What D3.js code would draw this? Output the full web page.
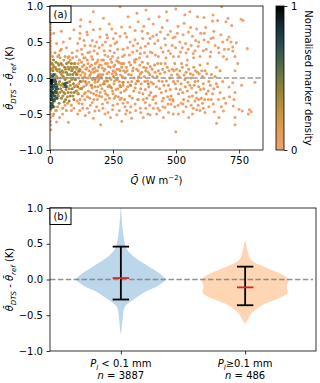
<!DOCTYPE html>
<html>
<head>
<meta charset="utf-8">
<script src="https://cdn.jsdelivr.net/npm/d3@7"></script>
<style>
  body { margin: 0; background: #fff; }
  svg { display: block; font-family: "DejaVu Sans", sans-serif; }
</style>
</head>
<body>
<svg id="chart" width="320" height="383"></svg>
<script>
// ---- panel (a) data: [Q, dT], grouped by marker density ----
const streakPts = [[1,1.0],[2,0.97],[1,0.93],[2,0.9],[1,0.86],[2,0.82],[1,0.78],[2,0.75],[1,0.71],[2,0.67],
  [1,0.63],[2,0.6],[1,0.56],[2,0.52],[1,0.48],[2,0.44],[1,0.4],[2,0.36],[1,0.33],[2,0.3],[1,0.26],[2,0.22],
  [1,0.18],[2,0.14],[1,0.1],[2,0.06],[1,-0.4],[2,-0.45],[1,-0.5],[2,-0.55],[1,-0.6],[2,-0.65],[3,-0.72]];

const sparsePts = [
  [26,0.48],[53,0.50],[79,0.55],[95,0.67],[40,0.38],[65,0.42],[88,0.35],[30,0.30],[72,0.28],[15,0.62],
  [45,0.65],[22,-0.45],[26,-0.61],[73,-0.615],[50,-0.5],[85,-0.45],[60,-0.38],[95,-0.42],[38,-0.55],[12,-0.52],
  [122,0.81],[159,0.78],[172,0.92],[119,0.62],[146,0.64],[172,0.67],[198,0.57],[110,0.48],[135,0.52],[160,0.45],
  [185,0.5],[125,0.4],[150,0.35],[175,0.38],[195,0.42],[105,0.3],[140,0.28],[165,0.3],[190,0.25],[115,-0.35],
  [130,-0.42],[155,-0.48],[172,-0.56],[185,-0.4],[201,-0.65],[140,-0.52],[110,-0.5],[160,-0.38],[195,-0.45],[120,0.72],
  [212,0.83],[278,0.99],[284,0.71],[251,0.55],[225,0.6],[240,0.45],[265,0.5],[290,0.4],[215,0.38],[230,0.3],
  [255,0.35],[270,0.28],[295,0.32],[245,0.68],[260,0.62],[220,0.5],[205,0.25],[280,0.2],[265,-0.51],[210,-0.42],
  [230,-0.48],[250,-0.38],[275,-0.45],[290,-0.35],[240,-0.55],[220,-0.3],[285,-0.6],[255,-0.28],[300,-0.5],[235,0.75],
  [317,0.71],[304,0.57],[337,0.53],[381,0.945],[397,0.55],[324,-0.56],[397,-0.51],[310,0.85],[350,0.78],[365,0.65],
  [330,0.45],[345,0.38],[360,0.42],[375,0.35],[390,0.48],[315,0.32],[355,0.28],[385,0.3],[320,-0.4],[340,-0.45],
  [360,-0.48],[380,-0.42],[395,-0.38],[350,-0.3],[370,-0.55],[335,0.25],[372,0.72],[392,0.82],[345,0.9],[305,-0.45],
  [423,0.60],[433,0.85],[496,0.57],[499,0.96],[423,-0.50],[456,-0.41],[480,-0.365],[489,-0.5],[409,0.75],[415,0.48],
  [440,0.42],[455,0.55],[470,0.38],[485,0.45],[445,0.7],[465,0.8],[478,0.65],[405,0.35],[430,0.3],[460,0.28],
  [490,0.3],[410,-0.42],[435,-0.45],[450,-0.55],[470,-0.48],[495,-0.4],[420,-0.35],[445,-0.32],[475,-0.3],[462,0.92],
  [509,-0.5],[529,-0.47],[532,0.76],[549,0.64],[555,0.92],[565,0.58],[582,0.68],[582,-0.44],[499,-0.745],[515,0.5],
  [525,0.42],[540,0.35],[560,0.45],[575,0.38],[590,0.5],[510,0.3],[545,0.25],[570,0.28],[595,0.3],[520,-0.35],
  [540,-0.4],[560,-0.38],[575,-0.32],[595,-0.45],[550,-0.55],[535,0.88],[585,0.85],[505,0.62],[590,-0.3],[565,-0.5],
  [611,0.84],[612,0.62],[639,0.55],[611,0.53],[647,0.875],[665,0.80],[645,0.79],[698,0.78],[692,0.40],[681,0.99],
  [615,-0.48],[652,-0.47],[661,-0.63],[697,-0.35],[701,0.26],[620,0.4],[635,0.3],[655,0.45],[670,0.35],[685,0.5],
  [625,0.2],[660,0.15],[675,-0.2],[640,-0.3],[680,-0.4],[605,-0.35],[630,-0.4],[670,-0.55],[690,-0.28],[650,0.65],
  [706,0.83],[758,0.815],[766,0.80],[721,0.73],[710,0.57],[703,0.53],[718,0.50],[739,0.49],[725,0.43],[725,0.375],
  [708,0.40],[783,0.41],[734,0.30],[734,0.10],[813,-0.06],[725,-0.065],[710,-0.125],[734,-0.2],[712,-0.26],[730,-0.3],
  [727,-0.39],[750,-0.435],[763,-0.46],[791,-0.44],[798,-0.47],[787,-0.50],[734,-0.55],[734,-0.65],[745,0.2],[760,-0.1]];

const fringePts = [
  [108,0.38],[118,0.55],[128,0.33],[138,0.45],[148,0.6],[158,0.36],[168,0.52],[178,0.44],[188,0.34],[198,0.68],
  [208,0.46],[218,0.32],[228,0.56],[238,0.38],[248,0.3],[258,0.48],[268,0.4],[278,0.58],[288,0.3],[298,0.62],
  [308,0.42],[318,0.5],[328,0.36],[338,0.66],[348,0.48],[358,0.34],[368,0.55],[378,0.44],[388,0.62],[398,0.36],
  [408,0.58],[418,0.32],[428,0.52],[438,0.64],[448,0.36],[458,0.46],[468,0.6],[478,0.34],[488,0.56],[498,0.42],
  [508,0.72],[518,0.36],[528,0.6],[538,0.48],[548,0.4],[558,0.7],[568,0.34],[578,0.52],[588,0.44],[598,0.62],
  [608,0.38],[618,0.7],[628,0.5],[638,0.36],[648,0.56],[668,0.42],[678,0.6],[688,0.3],
  [108,-0.32],[118,-0.45],[128,-0.36],[138,-0.3],[148,-0.42],[168,-0.34],[178,-0.46],[188,-0.3],[208,-0.36],[218,-0.5],
  [228,-0.34],[248,-0.44],[268,-0.36],[278,-0.3],[298,-0.4],[308,-0.34],[318,-0.48],[338,-0.36],[358,-0.42],[378,-0.34],
  [388,-0.5],[408,-0.3],[428,-0.42],[448,-0.4],[468,-0.36],[488,-0.32],[508,-0.38],[528,-0.36],[548,-0.32],[568,-0.42],
  [588,-0.38],[608,-0.42],[628,-0.3],[648,-0.36],[668,-0.3],[688,-0.46]];

const bandPts = [
  [10,0.3],[20,0.35],[30,-0.4],[40,0.28],[50,-0.42],[60,0.3],[70,-0.35],[80,0.25],[90,0.28],[25,-0.45],
  [45,0.4],[65,-0.45],[85,-0.38],[35,0.32],[55,0.25],[75,0.3],[95,0.2],[15,-0.5],
  [102,0.15],[105,-0.1],[108,0.05],[110,-0.22],[112,0.2],[115,0.0],[118,-0.15],[120,0.1],[123,-0.05],[125,0.22],
  [128,-0.25],[130,0.08],[133,-0.12],[135,0.18],[138,0.02],[140,-0.2],[142,0.12],[145,-0.08],[148,0.25],[150,0.0],
  [152,-0.18],[155,0.1],[158,-0.28],[160,0.05],[163,-0.1],[165,0.18],[168,-0.02],[170,0.12],[173,-0.22],[175,0.08],
  [178,-0.12],[180,0.2],[183,0.0],[185,-0.18],[188,0.1],[190,-0.05],[193,0.15],[195,-0.25],[198,0.05],[200,-0.1],
  [203,0.18],[206,-0.15],[209,0.05],[212,0.25],[215,-0.05],[218,0.12],[221,-0.22],[224,0.0],[227,0.2],[230,-0.12],
  [233,0.08],[236,-0.28],[239,0.15],[242,-0.02],[245,0.22],[248,-0.18],[251,0.1],[254,-0.08],[257,0.18],[260,-0.25],
  [263,0.05],[266,0.12],[269,-0.15],[272,0.22],[275,-0.05],[278,0.1],[281,-0.2],[284,0.15],[287,0.02],[290,-0.1],
  [293,0.2],[296,-0.3],[299,0.08],
  [303,0.15],[308,-0.12],[312,0.05],[316,-0.25],[320,0.18],[324,-0.05],[328,0.1],[332,-0.18],[336,0.22],[340,-0.08],
  [344,0.12],[348,-0.3],[352,0.02],[356,0.18],[360,-0.15],[364,0.08],[368,-0.22],[372,0.15],[376,-0.05],[380,0.1],
  [384,-0.28],[388,0.2],[392,-0.12],[396,0.05],[400,-0.2],[405,0.12],[410,-0.08],[415,0.18],[420,-0.25],[425,0.02],
  [430,0.1],[435,-0.15],[440,0.2],[445,-0.05],[450,-0.28],
  [455,0.08],[460,-0.18],[465,0.15],[470,-0.1],[475,0.0],[480,-0.25],[485,0.12],[490,-0.05],[495,0.2],[500,-0.15],
  [505,0.05],[510,-0.22],[515,0.1],[520,-0.08],[525,0.15],[530,-0.3],[535,-0.02],[540,0.08],[545,-0.18],[550,0.12],
  [555,-0.1],[560,0.0],[565,-0.25],[570,0.15],[575,-0.05],[580,-0.2],[585,0.08],[590,-0.12],[595,0.18],[600,-0.28],
  [605,0.02],[610,-0.15],[615,0.1],[620,-0.22],[630,-0.05],[640,0.05],[650,-0.15],[660,-0.08],[675,0.1]];

const bandPts2 = [
  [101,-0.02],[104,0.12],[107,-0.18],[111,0.08],[114,-0.08],[117,0.25],[119,-0.3],[122,0.04],[126,-0.14],[129,0.16],
  [131,-0.04],[134,0.28],[137,-0.22],[139,0.06],[143,-0.1],[146,0.14],[149,-0.26],[151,0.2],[154,-0.06],[157,0.03],
  [159,0.16],[162,-0.2],[164,0.08],[167,-0.14],[169,0.26],[172,0.0],[174,-0.3],[177,0.14],[179,-0.06],[182,0.1],
  [184,-0.24],[187,0.22],[189,-0.12],[192,0.04],[194,-0.02],[197,0.18],[199,-0.2],
  [202,0.02],[205,-0.26],[208,0.14],[211,-0.08],[214,0.1],[217,-0.18],[220,0.2],[223,-0.04],[226,0.06],[229,-0.24],
  [232,0.16],[235,-0.1],[238,0.0],[241,0.26],[244,-0.14],[247,0.06],[250,-0.22],[253,0.16],[256,-0.04],[259,0.08],
  [262,-0.16],[265,0.24],[268,0.0],[271,-0.26],[274,0.12],[277,-0.1],[280,0.04],[283,-0.28],[286,0.2],[289,-0.06],
  [292,0.1],[295,-0.18],[298,0.0],
  [302,-0.16],[306,0.1],[310,-0.06],[314,0.22],[318,-0.1],[322,0.04],[326,-0.28],[330,0.14],[334,0.0],[338,-0.14],
  [342,0.26],[346,-0.04],[350,0.1],[354,-0.2],[358,0.06],[362,-0.08],[366,0.22],[370,-0.3],[374,0.02],[378,-0.16],
  [382,0.14],[386,-0.04],[390,0.08],[394,-0.24],[398,0.16],[402,-0.06],[407,0.02],[412,-0.26],[417,0.08],[422,-0.12],
  [427,0.2],[432,-0.04],[437,0.06],[442,-0.2],[447,0.12],[452,-0.1],[457,0.2],[462,-0.04],[467,-0.26],[472,0.1],
  [477,-0.16],[482,0.04],[487,-0.3],[492,0.1],[497,-0.08],[502,0.12],[507,-0.04],[512,0.02],[517,-0.16],[522,0.2],
  [527,-0.2],[532,0.04],[537,-0.12],[542,0.18],[547,-0.06],[552,-0.26],[557,0.06],[562,-0.14],[567,0.04],[572,-0.1],
  [577,0.1],[582,-0.28],[587,-0.04],[592,0.06],[597,-0.16],[602,0.1],[608,-0.08],[614,-0.3],[622,0.06],[628,-0.18],
  [636,-0.1],[645,-0.22],[655,0.02],[665,-0.12],[685,-0.05]];

const midOlivePts = [[140,-0.05],[165,-0.1],[190,0.02],[215,-0.08],[240,-0.12],[265,-0.02],[290,-0.06],[320,-0.1],
  [350,-0.04],[390,-0.08],[178,-0.02],[205,0.0],[228,-0.04],[252,0.02],[280,-0.12]];

const olivePts = [
  [8,0.2],[12,0.1],[15,0.15],[18,-0.32],[20,0.05],[22,-0.2],[25,0.12],[28,-0.1],[30,0.0],[33,-0.25],
  [35,0.18],[38,-0.05],[40,0.08],[42,-0.15],[45,-0.28],[48,0.1],[50,-0.08],[52,0.02],[55,-0.2],[58,0.15],
  [60,-0.02],[62,-0.3],[65,0.08],[68,-0.12],[70,0.05],[72,-0.2],[75,0.12],[78,-0.05],[80,-0.25],[83,0.0],
  [86,0.1],[88,-0.15],[90,0.05],[93,-0.08],[96,-0.2],[98,0.08],[100,-0.02],[10,-0.35],[16,-0.4],[14,0.25],
  [24,0.22],[36,-0.35],[44,0.2],[56,-0.33],[66,0.2],[76,-0.32],[85,0.2],[95,-0.3],[105,0.05],[110,-0.12],
  [115,0.1],[120,-0.05]];

const olivePts2 = [
  [5,0.05],[7,0.12],[9,-0.02],[11,-0.25],[13,0.18],[17,0.0],[19,-0.12],[21,0.15],[23,-0.28],[26,0.02],
  [27,-0.18],[29,0.1],[31,-0.22],[32,0.2],[34,-0.08],[37,0.12],[39,-0.2],[41,0.0],[43,-0.1],[46,0.05],
  [47,-0.18],[49,0.18],[51,-0.25],[53,0.08],[54,-0.12],[57,0.0],[59,-0.22],[61,0.12],[64,-0.16],[67,0.0],
  [69,-0.26],[71,0.15],[73,-0.06],[74,0.22],[77,-0.15],[79,0.05],[81,-0.1],[82,0.15],[84,-0.2],[87,-0.02],
  [89,0.12],[91,-0.25],[92,0.0],[94,0.15],[97,-0.12],[99,0.2],[103,-0.18],[107,0.15],[113,-0.22],[118,0.12],
  [124,-0.15],[130,0.0]];

const tealPts = [[2,-0.3],[4,-0.22],[6,-0.15],[8,-0.28],[10,-0.1],[12,-0.2],[14,-0.05],[16,-0.25],[18,-0.12],
  [20,-0.18],[22,-0.08],[5,-0.35],[9,-0.38],[13,-0.32],[3,-0.4],[24,-0.15],[7,0.0],[11,0.02],
  [3,-0.12],[5,-0.18],[7,-0.3],[9,-0.05],[11,-0.15],[13,-0.22],[15,-0.1],[17,-0.3],[19,-0.02],[21,-0.25],
  [23,-0.05],[25,-0.2],[27,-0.12],[4,-0.42],[6,-0.38],[8,0.02],[12,-0.4],[15,0.05],[28,-0.28],[30,-0.15],
  [60,-0.1],[63,-0.12],[58,-0.08],[65,-0.07]];

const darkPts = [[3,-0.18],[5,-0.25],[7,-0.12],[4,-0.3],[9,-0.2],[6,-0.08]];
const corePts = [[3,-0.03],[5,-0.05],[7,-0.02],[4,-0.07],[2,-0.04]];

const scatterGroups = [streakPts, sparsePts, fringePts, bandPts, bandPts2, midOlivePts, olivePts, olivePts2, tealPts, darkPts, corePts];
const groupDensity = [0.02, 0.02, 0.03, 0.12, 0.08, 0.25, 0.38, 0.3, 0.68, 0.82, 1.0];

// colormap stops (density 0 -> 1)
const cmapColors = ["#f2a172", "#e59c58", "#c99342", "#9f8838", "#73793d", "#46634c", "#27474f", "#15292f", "#000000"];

// ---- panel (b) data ----
const violinCats = ["P_l < 0.1 mm", "P_l≥0.1 mm"];
const violinN = [3887, 486];
// [dT, relative half-width]
const profileDry = [[1.0,0.005],[0.85,0.02],[0.65,0.05],[0.5,0.09],[0.41,0.15],[0.3,0.33],[0.18,0.63],[0.09,0.85],
  [0.02,0.98],[0,1.0],[-0.08,0.85],[-0.17,0.55],[-0.29,0.26],[-0.38,0.09],[-0.52,0.045],[-0.71,0.015],[-0.76,0.003]];
const profileWet = [[0.55,0.005],[0.48,0.03],[0.41,0.05],[0.27,0.14],[0.18,0.42],[0.09,0.76],[0.0,0.97],[-0.05,0.95],
  [-0.10,0.93],[-0.19,0.95],[-0.26,0.76],[-0.36,0.38],[-0.47,0.15],[-0.54,0.08],[-0.62,0.005]];
const violinMean = [0.02, -0.11];
const violinUpper = [0.46, 0.18];
const violinLower = [-0.28, -0.36];
const violinFill = ["#bcd6ea", "#ffd6b3"];

const yTicks = [1.0, 0.5, 0.0, -0.5, -1.0];
const qTicks = [0, 250, 500, 750];

const svg = d3.select("#chart");
const fmt = d => d3.format(".1f")(d).replace("-", "\u2212");

// ===== panel (a) =====
const A = {l: 50, r: 263, t: 6, b: 150};
const xA = d3.scaleLinear().domain([0, 845]).range([A.l, A.r]);
const yA = d3.scaleLinear().domain([-1, 1]).range([A.b, A.t]);
const cmap = d3.scaleLinear()
  .domain(cmapColors.map((c, i) => i / (cmapColors.length - 1)))
  .range(cmapColors);

svg.append("clipPath").attr("id", "clipA")
  .append("rect").attr("x", A.l).attr("y", A.t).attr("width", A.r - A.l).attr("height", A.b - A.t);

const scat = svg.append("g").attr("clip-path", "url(#clipA)");
scatterGroups.forEach((pts, gi) => {
  scat.append("g").selectAll("circle")
    .data(pts)
    .enter().append("circle")
    .attr("cx", d => xA(d[0]))
    .attr("cy", d => yA(d[1]))
    .attr("r", 1.5)
    .attr("fill", cmap(groupDensity[gi]));
});

// zero line
svg.append("line")
  .attr("x1", A.l).attr("x2", A.r).attr("y1", yA(0)).attr("y2", yA(0))
  .attr("stroke", "#999").attr("stroke-width", 1.6).attr("stroke-dasharray", "5.5,2.4");

svg.append("g").attr("transform", `translate(${A.l},0)`)
  .call(d3.axisLeft(yA).tickValues(yTicks).tickFormat(fmt).tickSize(3.5).tickPadding(3.5))
  .call(g => g.select(".domain").remove());
svg.append("g").attr("transform", `translate(0,${A.b})`)
  .call(d3.axisBottom(xA).tickValues(qTicks).tickSize(3.5).tickPadding(3.5))
  .call(g => g.select(".domain").remove());
svg.append("rect").attr("x", A.l).attr("y", A.t).attr("width", A.r - A.l).attr("height", A.b - A.t)
  .attr("fill", "none").attr("stroke", "#000").attr("stroke-width", 0.8);

// panel letter
function panelLabel(x, y, txt) {
  svg.append("rect").attr("x", x).attr("y", y).attr("width", 21).attr("height", 16.5)
    .attr("fill", "#fff").attr("stroke", "#000").attr("stroke-width", 1);
  svg.append("text").attr("x", x + 10.5).attr("y", y + 12).attr("text-anchor", "middle")
    .attr("font-size", 10).text(txt);
}
panelLabel(A.l, A.t, "(a)");

// y label
function thetaLabel(cx, cy) {
  const t = svg.append("text").attr("transform", `translate(${cx},${cy}) rotate(-90)`)
    .attr("text-anchor", "middle").attr("font-size", 10);
  t.append("tspan").attr("font-style", "italic").text("\u03B8\u0304");
  t.append("tspan").attr("font-style", "italic").attr("font-size", 7).attr("dy", 2.5).text("DTS");
  t.append("tspan").attr("dy", -2.5).text(" - ");
  t.append("tspan").attr("font-style", "italic").text("\u03B8\u0304");
  t.append("tspan").attr("font-style", "italic").attr("font-size", 7).attr("dy", 2.5).text("ref");
  t.append("tspan").attr("dy", -2.5).text(" (K)");
}
thetaLabel(13, (A.t + A.b) / 2);

// x label
const xl = svg.append("text").attr("x", (A.l + A.r) / 2).attr("y", 184)
  .attr("text-anchor", "middle").attr("font-size", 10);
xl.append("tspan").attr("font-style", "italic").text("Q\u0304");
xl.append("tspan").text(" (W m");
xl.append("tspan").attr("font-size", 7).attr("dy", -4).text("\u22122");
xl.append("tspan").attr("dy", 4).text(")");

// colorbar
const CB = {l: 276, r: 284};
const grad = svg.append("defs").append("linearGradient").attr("id", "cbGrad")
  .attr("x1", 0).attr("y1", 1).attr("x2", 0).attr("y2", 0);
cmapColors.forEach((c, i) => grad.append("stop")
  .attr("offset", i / (cmapColors.length - 1)).attr("stop-color", c));
svg.append("rect").attr("x", CB.l).attr("y", A.t).attr("width", CB.r - CB.l).attr("height", A.b - A.t)
  .attr("fill", "url(#cbGrad)").attr("stroke", "#000").attr("stroke-width", 0.8);
const cbScale = d3.scaleLinear().domain([0, 1]).range([A.b, A.t]);
svg.append("g").attr("transform", `translate(${CB.r},0)`)
  .call(d3.axisRight(cbScale).tickValues([0, 1]).tickFormat(d3.format("d")).tickSize(3.5).tickPadding(3.5))
  .call(g => g.select(".domain").remove());
svg.append("text").attr("transform", `translate(305,${(A.t + A.b) / 2}) rotate(90)`)
  .attr("text-anchor", "middle").attr("font-size", 10).text("Normalised marker density");

// ===== panel (b) =====
const B = {l: 50, r: 316, t: 208, b: 351};
const xB = d3.scaleLinear().domain([0.43, 2.57]).range([B.l, B.r]);
const yB = d3.scaleLinear().domain([-1, 1]).range([B.b, B.t]);
const halfW = 0.36;

[profileDry, profileWet].forEach((prof, i) => {
  const pos = i + 1;
  const area = d3.area()
    .curve(d3.curveCatmullRom)
    .y(d => yB(d[0]))
    .x0(d => xB(pos - d[1] * halfW))
    .x1(d => xB(pos + d[1] * halfW));
  svg.append("path").attr("d", area(prof)).attr("fill", violinFill[i]);
});

svg.append("line")
  .attr("x1", B.l).attr("x2", B.r - 3).attr("y1", yB(0)).attr("y2", yB(0))
  .attr("stroke", "#808080").attr("stroke-opacity", 0.85)
  .attr("stroke-width", 1.6).attr("stroke-dasharray", "5.5,2.4");

const capW = 0.066;
violinMean.forEach((m, i) => {
  const pos = i + 1;
  const g = svg.append("g").attr("stroke", "#000").attr("stroke-width", 1.8);
  g.append("line").attr("x1", xB(pos)).attr("x2", xB(pos)).attr("y1", yB(violinLower[i])).attr("y2", yB(violinUpper[i]));
  g.append("line").attr("x1", xB(pos - capW)).attr("x2", xB(pos + capW)).attr("y1", yB(violinUpper[i])).attr("y2", yB(violinUpper[i]));
  g.append("line").attr("x1", xB(pos - capW)).attr("x2", xB(pos + capW)).attr("y1", yB(violinLower[i])).attr("y2", yB(violinLower[i]));
  svg.append("line").attr("x1", xB(pos - capW)).attr("x2", xB(pos + capW)).attr("y1", yB(m)).attr("y2", yB(m))
    .attr("stroke", "#d62728").attr("stroke-width", 1.8);
});

svg.append("g").attr("transform", `translate(${B.l},0)`)
  .call(d3.axisLeft(yB).tickValues(yTicks).tickFormat(fmt).tickSize(3.5).tickPadding(3.5))
  .call(g => g.select(".domain").remove());
svg.append("g").attr("transform", `translate(0,${B.b})`)
  .call(d3.axisBottom(xB).tickValues([1, 2]).tickFormat("").tickSize(3.5))
  .call(g => g.select(".domain").remove());
svg.append("rect").attr("x", B.l).attr("y", B.t).attr("width", B.r - B.l).attr("height", B.b - B.t)
  .attr("fill", "none").attr("stroke", "#000").attr("stroke-width", 0.8);

panelLabel(B.l, B.t, "(b)");
thetaLabel(13, (B.t + B.b) / 2);

// category labels
violinCats.forEach((c, i) => {
  const cx = xB(i + 1);
  const parts = c.split("_l");
  const t1 = svg.append("text").attr("x", cx).attr("y", 367).attr("text-anchor", "middle").attr("font-size", 10);
  t1.append("tspan").attr("font-style", "italic").text(parts[0]);
  t1.append("tspan").attr("font-style", "italic").attr("font-size", 7).attr("dy", 2.5).text("l");
  t1.append("tspan").attr("dy", -2.5).text(parts[1]);
  const t2 = svg.append("text").attr("x", cx).attr("y", 379).attr("text-anchor", "middle").attr("font-size", 10);
  t2.append("tspan").attr("font-style", "italic").text("n");
  t2.append("tspan").text(" = " + violinN[i]);
});

svg.selectAll(".tick text").attr("font-size", 10).attr("fill", "#000").attr("font-family", "DejaVu Sans");
svg.selectAll(".tick line").attr("stroke", "#000").attr("stroke-width", 0.8);
</script>
</body>
</html>
